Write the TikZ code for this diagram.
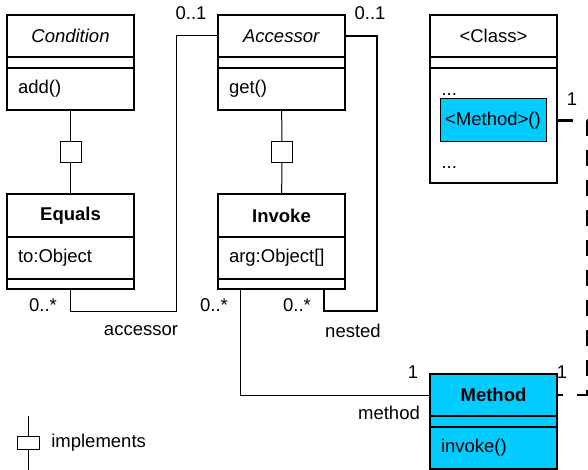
\documentclass[tikz,border=0pt]{standalone}
\usepackage{fontspec}
\setmainfont{Liberation Sans}
\usetikzlibrary{positioning, calc}
\definecolor{methodcyan}{RGB}{0, 204, 255}

\begin{document}
\begin{tikzpicture}[x=1pt, y=-1pt, line width=1pt, font=\fontsize{18.5}{21}\selectfont,
  comp/.style={draw, line width=1.2pt, outer sep=0pt, inner ysep=0pt, inner xsep=11pt, text width=105pt, minimum height=#1},
  comp/.default=42pt,
  ifacebox/.style={draw, fill=white, outer sep=0pt, inner sep=0pt, minimum width=21pt, minimum height=21pt},
  mult/.style={inner sep=0pt},
  nestline/.style={line width=2.4pt},
  implline/.style={line width=2.4pt, dash pattern=on 16pt off 14pt}]
  \useasboundingbox (0,0) rectangle (588,470);

  \node[comp, align=center] (condtitle) at (70.5,36) {\textit{Condition}};
  \node[comp=11pt, below=0pt of condtitle] (condattr) {};
  \node[comp, align=left, below=0pt of condattr] (condops) {add()};

  \node[comp, align=center] (acctitle) at (281.5,36) {\textit{Accessor}};
  \node[comp=11pt, below=0pt of acctitle] (accattr) {};
  \node[comp, align=left, below=0pt of accattr] (accops) {get()};

  \node[comp, align=center] (clstitle) at (493.5,36) {<Class>};
  \node[comp=11pt, below=0pt of clstitle] (clsattr) {};
  \node[comp=115pt, below=0pt of clsattr] (clsops) {};
  \node[anchor=base west, inner sep=0pt] (clsdotsA) at (441,96) {...};
  \node[draw, fill=methodcyan, inner sep=0pt, minimum width=106pt, minimum height=43pt] (methodhl) at (493,120.5) {<Method>()};
  \node[anchor=base west, inner sep=0pt] (clsdotsB) at (441,169) {...};

  \node[comp=43pt, align=center] (eqtitle) at (70.5,215.5) {\textbf{Equals}};
  \node[comp, align=left, below=0pt of eqtitle] (eqattr) {to:Object};
  \node[comp=10pt, below=0pt of eqattr] (eqops) {};

  \node[comp=43pt, align=center] (invtitle) at (281.5,215.5) {\textbf{Invoke}};
  \node[comp, align=left, below=0pt of invtitle] (invattr) {arg:Object[]};
  \node[comp=10pt, below=0pt of invattr] (invops) {};

  \node[comp, align=center, fill=methodcyan] (mettitle) at (493.5,395) {\textbf{Method}};
  \node[comp=11pt, fill=methodcyan, below=0pt of mettitle] (metattr) {};
  \node[comp, align=left, fill=methodcyan, below=0pt of metattr] (metops) {invoke()};

  \node[ifacebox] (condsq) at (70.5,152.5) {};
  \node[ifacebox] (accsq) at (282,152.5) {};
  \draw (condops) -- (condsq) -- (eqtitle);
  \draw (accops) -- (accsq) -- (invtitle);

  \draw (eqops.south) |- ($(acctitle.west)+(-42,275)$) |- (acctitle.west);
  \draw[nestline] (acctitle.east) -| ($(invops.south east)+(32,22)$) -| ($(invops.south east)+(-21,0)$);
  \draw ($(invops.south west)+(22,0)$) |- (mettitle.west);
  \draw[implline] (clsops.east |- methodhl) -- ++(30.5,0) |- (mettitle.east);

  \node[mult] (multacc) at (191,13) {0..1};
  \node[mult] (multnest) at (370,13) {0..1};
  \node[mult] (multeq) at (43,305) {0..*};
  \node[mult] (rolacc) at (141,331) {accessor};
  \node[mult] (multinv) at (214,305) {0..*};
  \node[mult] (multnestinv) at (297,305) {0..*};
  \node[mult] (rolnest) at (353,331) {nested};
  \node[mult] (multmet) at (413,372) {1};
  \node[mult] (rolmet) at (389,413) {method};
  \node[mult] (multmetimpl) at (562,372) {1};
  \node[mult] (multhl) at (572,99) {1};

  \node[draw, fill=white, inner sep=0pt, minimum width=22pt, minimum height=13pt] (legsq) at (28,442.5) {};
  \coordinate (legtop) at (28,416);
  \coordinate (legbot) at (28,470);
  \draw (legtop) -- (legsq) -- (legbot);
  \node[right=8pt of legsq] (legtext) {implements};
\end{tikzpicture}
\end{document}
